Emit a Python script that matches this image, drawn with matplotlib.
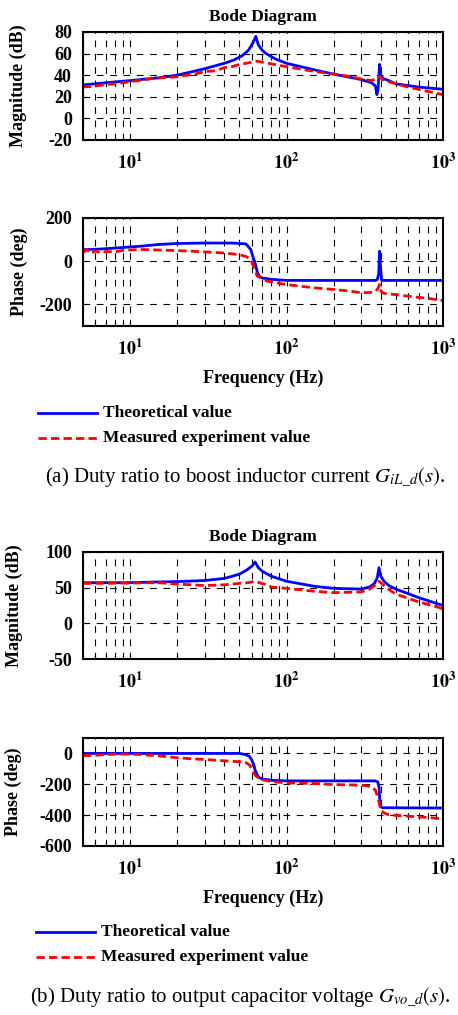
import numpy as np
import matplotlib
matplotlib.use("Agg")
import matplotlib.pyplot as plt
from matplotlib.lines import Line2D

plt.rcParams['font.family'] = ['Liberation Serif', 'DejaVu Serif']
plt.rcParams['mathtext.fontset'] = 'stix'

# ---- (a) magnitude ----
fa_mag_th = [5, 7, 10, 15, 20, 30, 40, 46, 52, 57, 61, 63.6, 66, 70, 74, 85, 100, 150, 200, 300, 350, 370, 378, 385, 393, 400, 413, 450, 500, 700, 1000]
ma_mag_th = [31, 33, 35, 37.5, 40, 46, 51, 54, 58, 63, 70, 76, 68, 63, 60, 55, 51, 45, 41, 36, 33, 30, 22, 28, 50, 40, 37, 35, 32, 29, 27]
fa_mag_me = [5, 6, 7, 8, 10, 12, 14, 17, 20, 23, 26, 30, 35, 40, 45, 50, 55, 60, 65, 70, 80, 90, 100, 130, 160, 200, 250, 300, 350, 380, 393, 410, 430, 500, 600, 800, 1000]
ma_mag_me = [29, 30, 31.5, 32, 34, 35.5, 37, 38, 38.5, 40, 41, 43.5, 44, 47, 48, 50, 51, 52, 53, 52, 50.5, 49, 48, 45, 43, 41, 39, 36.5, 35, 37, 39, 36, 35, 32, 29, 25, 22]

# ---- (a) phase ----
fa_ph_th = [5, 6, 7, 8.5, 10, 12, 15, 20, 30, 45, 55, 59, 61, 63, 65, 67, 70, 80, 100, 200, 370, 380, 388, 393, 398, 405, 420, 1000]
pa_ph_th = [54, 55, 58, 62, 66, 70, 77, 82, 84, 84, 80, 55, 20, -10, -50, -70, -78, -84, -89, -89, -89, -85, -60, 46, -20, -88, -89, -89]
fa_ph_me = [5, 5.3, 5.6, 6, 6.5, 7, 8, 9, 10, 12, 15, 20, 25, 30, 40, 45, 50, 55, 58, 60, 62, 65, 70, 75, 85, 100, 130, 160, 200, 250, 300, 340, 370, 385, 393, 402, 420, 500, 600, 800, 1000]
pa_ph_me = [40, 55, 35, 48, 38, 45, 43, 50, 52, 54, 52, 49, 46, 43, 38, 34, 30, 22, 12, -5, -30, -69, -80, -92, -100, -108, -118, -125, -131, -138, -146, -145, -141, -125, -108, -140, -149, -155, -162, -172, -182]

# ---- (b) magnitude ----
fb_mag_th = [5, 10, 15, 20, 30, 40, 45, 50, 55, 60, 63, 66, 70, 80, 100, 150, 200, 300, 340, 365, 380, 390, 400, 420, 450, 500, 700, 1000]
mb_mag_th = [57, 57, 58, 58.5, 60, 63, 66, 69, 74, 80, 86, 78, 73, 66, 59, 52, 49, 48, 51, 56, 64, 78, 66, 59, 53, 48, 36, 25]
fb_mag_me = [5, 10, 15, 20, 25, 30, 35, 40, 45, 50, 57, 63, 67, 72, 80, 100, 150, 200, 300, 340, 370, 390, 410, 440, 500, 600, 700, 850, 950, 1000]
mb_mag_me = [56, 56.5, 57, 55, 54, 53, 53.5, 54, 55, 56, 57, 59, 57, 55, 51, 49, 45, 43, 44, 48, 54, 59, 55, 49, 41, 35, 30, 25, 22, 20]

# ---- (b) phase ----
fb_ph_th = [5, 20, 50, 55, 58, 60, 62, 63, 65, 67, 70, 80, 100, 200, 370, 383, 390, 393, 396, 400, 410, 1000]
pb_ph_th = [0, 0, 0, -8, -20, -43, -80, -109, -140, -157, -165, -174, -178, -178, -178, -185, -217, -280, -326, -345, -352, -354]
fb_ph_me = [5, 6, 7, 8, 10, 12, 15, 20, 25, 30, 40, 50, 55, 58, 60, 63, 66, 70, 80, 100, 150, 200, 250, 300, 350, 370, 385, 395, 400, 420, 450, 600, 800, 1000]
pb_ph_me = [-15, -12, -7, -5, -4, -8, -15, -28, -35, -39, -48, -54, -60, -75, -100, -141, -160, -170, -182, -191, -195, -202, -204, -206, -215, -239, -290, -340, -370, -385, -398, -407, -415, -424]

xticks = [10, 100, 1000]
xticklabels = [r'$\mathbf{10^1}$', r'$\mathbf{10^2}$', r'$\mathbf{10^3}$']

W, H = 458, 1015
fig = plt.figure(figsize=(W / 100, H / 100), dpi=100)

def make_ax(top, bottom, ylim, yticks, ylabel, label_x, title=None, xlabel=None):
    ax = fig.add_axes([83 / W, 1 - bottom / H, 360 / W, (bottom - top) / H])
    ax.set_xscale('log')
    ax.set_xlim(5, 1000)
    ax.set_ylim(*ylim)
    ax.set_yticks(yticks)
    ax.set_yticklabels([str(v) for v in yticks], fontsize=13, fontweight='bold')
    ax.set_xticks(xticks)
    ax.set_xticklabels(xticklabels, fontsize=13)
    ax.xaxis.set_minor_locator(matplotlib.ticker.LogLocator(base=10, subs=np.arange(2, 10)))
    ax.xaxis.set_minor_formatter(matplotlib.ticker.NullFormatter())
    ax.tick_params(which='both', direction='in', length=3, width=0.8, top=False, right=False)
    ax.tick_params(axis='y', pad=8)
    ax.tick_params(axis='x', pad=9)
    ax.grid(True, which='major', axis='both', color='black', linestyle=(0, (6, 6)), linewidth=0.8)
    ax.grid(True, which='minor', axis='x', color='black', linestyle=(0, (6, 6)), linewidth=0.8)
    for s in ax.spines.values():
        s.set_linewidth(1.5)
    ax.set_ylabel(ylabel, fontsize=13, fontweight='bold')
    ax.yaxis.set_label_coords((label_x - 83) / 360, 0.5)
    if title:
        ax.set_title(title, fontsize=12.5, fontweight='bold', pad=8)
    if xlabel:
        ax.set_xlabel(xlabel, fontsize=13, fontweight='bold', labelpad=8)
    return ax

ax1 = make_ax(32, 140, (-20, 80), [-20, 0, 20, 40, 60, 80], 'Magnitude (dB)', 27, title='Bode Diagram')
ax1.plot(fa_mag_th, ma_mag_th, color='#0000ff', lw=2)
ax1.plot(fa_mag_me, ma_mag_me, color='#ff0000', lw=2, ls=(0, (3, 1.5)))

ax2 = make_ax(218, 326, (-300, 200), [-200, 0, 200], 'Phase (deg)', 28, xlabel='Frequency (Hz)')
ax2.plot(fa_ph_th, pa_ph_th, color='#0000ff', lw=2)
ax2.plot(fa_ph_me, pa_ph_me, color='#ff0000', lw=2, ls=(0, (3, 1.5)))

ax3 = make_ax(552, 659, (-50, 100), [-50, 0, 50, 100], 'Magnitude (dB)', 23, title='Bode Diagram')
ax3.plot(fb_mag_th, mb_mag_th, color='#0000ff', lw=2)
ax3.plot(fb_mag_me, mb_mag_me, color='#ff0000', lw=2, ls=(0, (3, 1.5)))

ax4 = make_ax(738, 846, (-600, 100), [-600, -400, -200, 0], 'Phase (deg)', 22, xlabel='Frequency (Hz)')
ax4.plot(fb_ph_th, pb_ph_th, color='#0000ff', lw=2)
ax4.plot(fb_ph_me, pb_ph_me, color='#ff0000', lw=2, ls=(0, (3, 1.5)))

def legend(y1, y2, x0):
    fig.add_artist(Line2D([x0 / W, (x0 + 59) / W], [1 - y1 / H, 1 - y1 / H], color='#0000ff', lw=2))
    fig.add_artist(Line2D([x0 / W, (x0 + 59) / W], [1 - y2 / H, 1 - y2 / H], color='#ff0000', lw=2, ls=(0, (3, 1.5))))
    fig.text((x0 + 65) / W, 1 - y1 / H, 'Theoretical value', fontsize=12.5, fontweight='bold', va='center', ha='left')
    fig.text((x0 + 65) / W, 1 - y2 / H, 'Measured experiment value', fontsize=12.5, fontweight='bold', va='center', ha='left')

legend(413, 438, 38)
legend(932, 957, 36)

fig.text(245 / W, 1 - 477 / H, r'(a) Duty ratio to boost inductor current $G_{iL\_d}(s)$.', fontsize=15, ha='center', va='center')
fig.text(240 / W, 1 - 997 / H, r'(b) Duty ratio to output capacitor voltage $G_{vo\_d}(s)$.', fontsize=15, ha='center', va='center')

fig.savefig('out.png', dpi=100)
